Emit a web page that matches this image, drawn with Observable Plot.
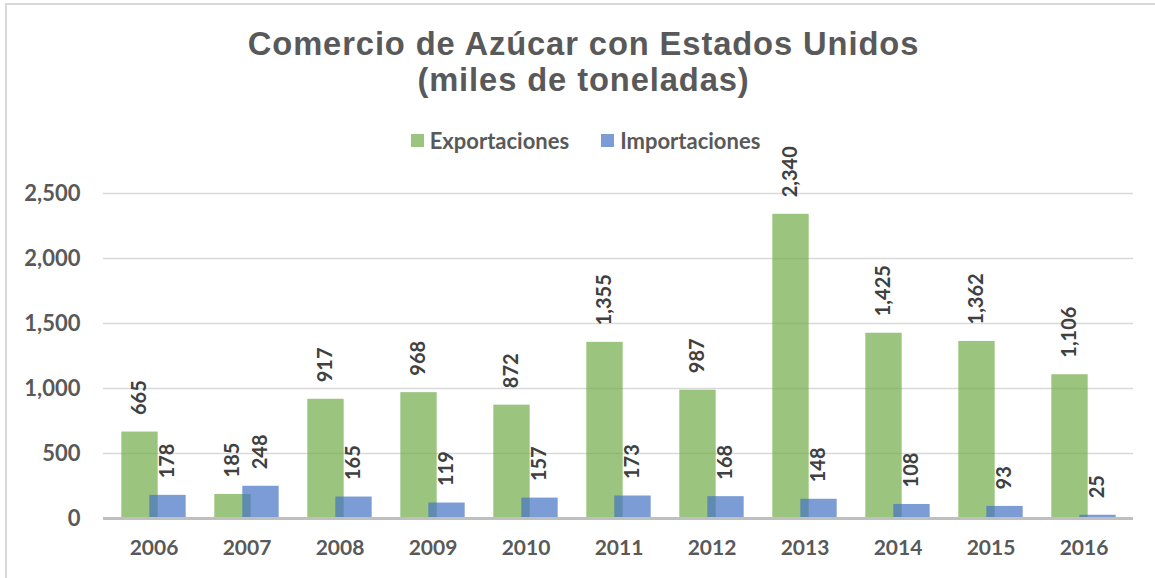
<!DOCTYPE html>
<html>
<head>
<meta charset="utf-8">
<script src="https://cdn.jsdelivr.net/npm/d3@7"></script>
<script src="https://cdn.jsdelivr.net/npm/@observablehq/plot@0.6"></script>
<style>
  html, body { margin: 0; padding: 0; background: #fff; }
  #wrap { position: relative; width: 1155px; height: 578px; overflow: hidden; background: #fff; }
  #frame { position: absolute; left: 5px; top: 3px; width: 1200px; height: 600px;
           border-top: 2px solid #d9d9d9; border-left: 2px solid #d9d9d9; pointer-events: none; }
  #title { height: 120px; box-sizing: border-box; padding-top: 26px; padding-left: 12px; text-align: center;
           font-family: "Liberation Sans", Arial, sans-serif; font-weight: bold; font-size: 32.7px;
           line-height: 36px; letter-spacing: 0.9px; color: #595959; }
  #legend { height: 40px; display: flex; justify-content: center; align-items: center;
            font-family: Lato, "Open Sans", sans-serif; font-weight: bold; font-size: 22px; color: #595959;
            margin-left: 16px; }
  .item { display: flex; align-items: center; margin: 0 16px; }
  .sw { width: 13px; height: 13px; margin-right: 6px; }
  svg { overflow: visible; }
</style>
</head>
<body>
<div id="wrap">
  <div id="frame"></div>
  <div id="title">Comercio de Azúcar con Estados Unidos<br>(miles de toneladas)</div>
  <div id="legend"></div>
  <div id="chart"></div>
</div>
<script>
const years = ["2006","2007","2008","2009","2010","2011","2012","2013","2014","2015","2016"];
const exportaciones = [665,185,917,968,872,1355,987,2340,1425,1362,1106];
const importaciones = [178,248,165,119,157,173,168,148,108,93,25];
const seriesNames = ["Exportaciones","Importaciones"];
const seriesColors = ["#70AD47","#4472C4"];
const yTicks = [0,500,1000,1500,2000,2500];

const rows = [];
years.forEach((y,i) => {
  rows.push({year: y, serie: seriesNames[0], value: exportaciones[i]});
  rows.push({year: y, serie: seriesNames[1], value: importaciones[i]});
});
const expRows = rows.filter(d => d.serie === seriesNames[0]);
const impRows = rows.filter(d => d.serie === seriesNames[1]);

// legend
const leg = document.getElementById("legend");
seriesNames.forEach((n,i) => {
  const it = document.createElement("div"); it.className = "item";
  const sw = document.createElement("div"); sw.className = "sw";
  sw.style.background = seriesColors[i]; sw.style.opacity = 0.7;
  const t = document.createElement("span"); t.textContent = n;
  it.appendChild(sw); it.appendChild(t); leg.appendChild(it);
});

const W = 1155, H = 418;
const mL = 103, mR = 22;
const band = (W - mL - mR) / years.length;
const barW = 37;
const inset = (band - barW) / 2;
const off = 14;
const fmt = d3.format(",");

const plot = Plot.plot({
  width: W, height: H,
  marginLeft: mL, marginRight: mR, marginTop: 33, marginBottom: 60,
  style: {fontFamily: "Lato, 'Open Sans', sans-serif", fontWeight: "bold", fontSize: "20px", color: "#595959", overflow: "visible", background: "transparent"},
  x: {domain: years, padding: 0, label: null},
  y: {domain: [0, 2500], label: null},
  marks: [
    Plot.gridY(yTicks, {stroke: "#d9d9d9", strokeOpacity: 1, strokeWidth: 1.5}),
    Plot.axisY(yTicks, {tickSize: 0, tickPadding: 23, tickFormat: fmt, label: null, fill: "#595959", fontSize: 22}),
    Plot.axisX({tickSize: 0, tickPadding: 22, label: null, fill: "#595959", fontSize: 21}),
    Plot.barY(expRows, {x: "year", y: "value", fill: seriesColors[0], fillOpacity: 0.7,
      insetLeft: inset, insetRight: inset, dx: -off}),
    Plot.barY(impRows, {x: "year", y: "value", fill: seriesColors[1], fillOpacity: 0.7,
      insetLeft: inset, insetRight: inset, dx: off}),
    Plot.ruleY([0], {stroke: "#bfbfbf", strokeWidth: 3}),
    Plot.text(expRows, {x: "year", y: "value", text: d => fmt(d.value), rotate: -90, textAnchor: "start",
      dx: -off, dy: -17, fill: "#404040", fontSize: 20, fontWeight: "bold"}),
    Plot.text(impRows, {x: "year", y: "value", text: d => fmt(d.value), rotate: -90, textAnchor: "start",
      dx: off, dy: -17, fill: "#404040", fontSize: 20, fontWeight: "bold"})
  ]
});
document.getElementById("chart").appendChild(plot);
</script>
</body>
</html>
